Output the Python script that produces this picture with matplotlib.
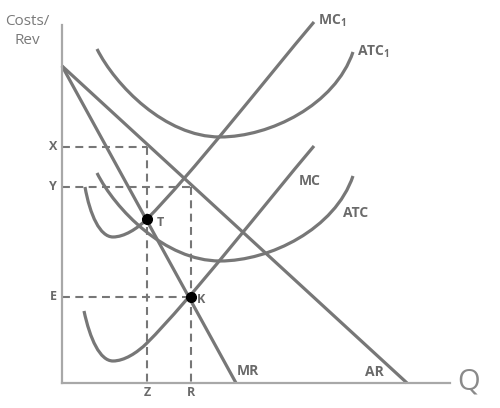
import matplotlib
matplotlib.use("Agg")
import matplotlib.pyplot as plt
from matplotlib.path import Path
from matplotlib.patches import PathPatch

plt.rcParams['font.family'] = ['Open Sans', 'DejaVu Sans']
plt.rcParams['mathtext.fontset'] = 'custom'
plt.rcParams['mathtext.bf'] = 'Open Sans:bold'
plt.rcParams['mathtext.rm'] = 'Open Sans'

# demand / revenue lines (Q, cost)
ar_line = [(0, 31.7), (34.5, 0)]
mr_line = [(0, 31.7), (17.4, 0)]

# cost curves as cubic bezier segments (start, ctrl1, ctrl2, end)
mc1_segs = [
    [(2.3, 19.6), (2.8, 16.8), (3.8, 14.6), (5.1, 14.6)],
    [(5.1, 14.6), (6.2, 14.6), (7.5, 15.4), (8.5, 16.4)],
    [(8.5, 16.4), (12.8, 20.7), (20.3, 30.3), (25.2, 36.1)],
]
mc_segs = [
    [(2.2, 7.2), (2.8, 4.4), (3.8, 2.2), (5.1, 2.2)],
    [(5.1, 2.2), (6.2, 2.2), (7.5, 3.0), (8.5, 4.0)],
    [(8.5, 4.0), (12.8, 8.3), (20.3, 17.9), (25.2, 23.7)],
]
atc1_segs = [
    [(3.5, 33.4), (5.3, 29.8), (10.3, 24.6), (15.8, 24.6)],
    [(15.8, 24.6), (20.8, 24.6), (27.3, 27.8), (29.1, 33.1)],
]
atc_segs = [
    [(3.5, 21.0), (5.3, 17.4), (10.3, 12.2), (15.8, 12.2)],
    [(15.8, 12.2), (20.8, 12.2), (27.3, 15.4), (29.1, 20.7)],
]

# equilibrium points and levels
pt_T = (8.5, 16.4)
pt_K = (12.9, 8.6)
level_X = 23.6
level_Y = 19.6
level_E = 8.6
q_Z = 8.5
q_R = 12.9

curve_col = '#777777'
text_col = '#6a6a6a'

fig = plt.figure(figsize=(5, 4.08), dpi=100)
ax = fig.add_axes([0.124, 0.0613, 0.776, 0.8775])
ax.set_xlim(0, 38.8)
ax.set_ylim(0, 35.8)
for s in ['top', 'right']:
    ax.spines[s].set_visible(False)
for s in ['left', 'bottom']:
    ax.spines[s].set_color('#a8a8a8')
    ax.spines[s].set_linewidth(1.6)
ax.set_xticks([])
ax.set_yticks([])


def bezier(segs):
    verts = [segs[0][0]]
    codes = [Path.MOVETO]
    for seg in segs:
        verts += seg[1:]
        codes += [Path.CURVE4] * 3
    return PathPatch(Path(verts, codes), fill=False, edgecolor=curve_col,
                     lw=2.3, clip_on=False, capstyle='butt')


# dashed guides
dash = dict(color=curve_col, lw=1.5, ls=(0, (3.8, 2.6)), clip_on=False)
ax.plot([0, q_Z], [level_X, level_X], **dash)
ax.plot([q_Z, q_Z], [level_X, 0], **dash)
ax.plot([0, q_R], [level_Y, level_Y], **dash)
ax.plot([q_R, q_R], [level_Y, 0], **dash)
ax.plot([0, q_R], [level_E, level_E], **dash)

# curves
for segs in [atc1_segs, atc_segs, mc1_segs, mc_segs]:
    ax.add_patch(bezier(segs))
for line in [ar_line, mr_line]:
    xs, ys = zip(*line)
    ax.plot(xs, ys, color=curve_col, lw=2.3, solid_capstyle='butt', clip_on=False)

ax.plot(*pt_T, 'o', color='black', ms=7, zorder=5, clip_on=False)
ax.plot(*pt_K, 'o', color='black', ms=7, zorder=5, clip_on=False)

# curve labels
lab = dict(color=text_col, fontsize=10, fontweight='bold', va='center', ha='left')
ax.text(25.6, 36.2, r'MC$_{\mathbf{1}}$', **lab)
ax.text(29.5, 33.1, r'ATC$_{\mathbf{1}}$', **lab)
ax.text(23.7, 20.2, 'MC', **lab)
ax.text(28.1, 17.0, 'ATC', **lab)
ax.text(17.5, 1.2, 'MR', **lab)
ax.text(30.3, 1.1, 'AR', **lab)

# point / level labels
small = dict(color=text_col, fontsize=9, fontweight='bold')
ax.text(9.5, 16.0, 'T', ha='left', va='center', **small)
ax.text(13.5, 8.3, 'K', ha='left', va='center', **small)
ax.text(-0.5, level_X, 'X', ha='right', va='center', **small)
ax.text(-0.5, level_Y, 'Y', ha='right', va='center', **small)
ax.text(-0.5, level_E, 'E', ha='right', va='center', **small)
ax.text(q_Z, -1.0, 'Z', ha='center', va='center', **small)
ax.text(q_R, -1.0, 'R', ha='center', va='center', **small)

# axis titles
ax.text(39.5, 0.05, 'Q', color='#8a8a8a', fontsize=21, ha='left', va='center')
ax.text(-3.5, 35.2, 'Costs/\nRev', color='#7a7a7a', fontsize=11, ha='center',
        va='center', linespacing=1.3)

fig.savefig('out.png', dpi=100)
